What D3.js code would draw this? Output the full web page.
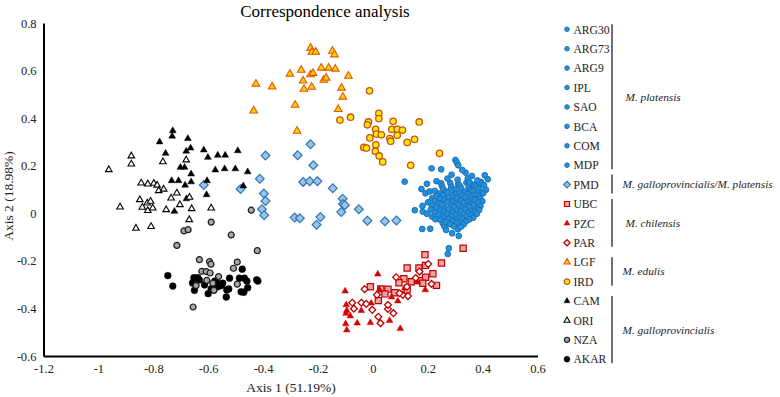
<!DOCTYPE html>
<html><head><meta charset="utf-8">
<script src="https://cdn.jsdelivr.net/npm/d3@7"></script>
<style>
html,body{margin:0;padding:0;background:#fff;}
svg{display:block;font-family:"Liberation Serif","Times New Roman",serif;}
</style></head>
<body>
<svg id="chart" width="780" height="397"></svg>
<script>
// ---------- DATA ----------
const title = "Correspondence analysis";
const xLabel = "Axis 1 (51.19%)";
const yLabel = "Axis 2 (18.98%)";
const xTicks = [-1.2,-1,-0.8,-0.6,-0.4,-0.2,0,0.2,0.4,0.6];
const yTicks = [-0.6,-0.4,-0.2,0,0.2,0.4,0.6,0.8];

// M. platensis populations (ARG30, ARG73, ARG9, IPL, SAO, BCA, COM, MDP) share one marker
const platensis = [
[0.301,0.224],[0.306,0.213],[0.311,0.202],[0.214,0.189],[0.249,0.185],[0.287,0.162],[0.338,0.171],[0.361,0.157],[0.408,0.160],[0.419,0.143],[0.394,0.132],[0.116,0.133],[0.197,0.124],[0.249,0.126],[0.177,0.102],[0.192,0.084],[0.207,0.092],[0.153,0.013],[0.181,0.031],[0.182,0.007],[0.197,-0.002],[0.180,-0.066],[0.209,-0.065],[0.216,-0.014],[0.228,-0.025],[0.255,-0.042],[0.261,-0.056],[0.267,-0.070],[0.289,-0.084],[0.310,-0.067],[0.313,-0.095],[0.277,-0.147],[0.273,-0.171],
[0.282,0.127],[0.311,0.122],[0.341,0.129],[0.368,0.120],[0.395,0.126],
[0.252,0.114],[0.286,0.111],[0.316,0.117],[0.349,0.109],[0.376,0.113],[0.405,0.118],
[0.256,0.103],[0.298,0.100],[0.322,0.106],[0.356,0.098],[0.386,0.104],[0.412,0.099],
[0.226,0.094],[0.266,0.092],[0.284,0.097],[0.336,0.090],[0.366,0.094],[0.396,0.088],
[0.241,0.083],[0.271,0.086],[0.302,0.081],[0.317,0.087],[0.347,0.082],[0.376,0.079],[0.402,0.084],
[0.231,0.073],[0.256,0.076],[0.291,0.071],[0.326,0.074],[0.354,0.070],[0.386,0.073],
[0.216,0.064],[0.246,0.061],[0.276,0.066],[0.306,0.062],[0.336,0.067],[0.361,0.060],[0.391,0.063],
[0.226,0.052],[0.261,0.056],[0.291,0.050],[0.321,0.054],[0.346,0.049],[0.371,0.055],[0.399,0.051],
[0.201,0.046],[0.241,0.042],[0.271,0.047],[0.301,0.041],[0.331,0.044],[0.356,0.040],[0.384,0.045],
[0.216,0.034],[0.251,0.037],[0.286,0.032],[0.311,0.036],[0.341,0.031],[0.366,0.035],[0.392,0.030],
[0.231,0.024],[0.264,0.021],[0.296,0.026],[0.326,0.022],[0.351,0.027],[0.381,0.020],
[0.211,0.016],[0.246,0.012],[0.276,0.017],[0.306,0.011],[0.336,0.015],[0.361,0.010],[0.387,0.014],
[0.226,0.004],[0.259,0.007],[0.291,0.002],[0.321,0.006],[0.346,0.001],[0.371,0.005],
[0.241,-0.006],[0.271,-0.003],[0.301,-0.008],[0.331,-0.004],[0.356,-0.009],[0.379,-0.002],
[0.256,-0.016],[0.286,-0.013],[0.316,-0.018],[0.341,-0.014],[0.366,-0.019],
[0.246,-0.027],[0.276,-0.024],[0.301,-0.028],[0.326,-0.023],[0.351,-0.026],
[0.266,-0.036],[0.291,-0.033],[0.316,-0.038],[0.339,-0.034],
[0.281,-0.046],[0.306,-0.043],[0.331,-0.047],
[0.296,-0.055],[0.321,-0.057],
[0.272,0.146],[0.309,0.141],[0.346,0.147],[0.381,0.138],
[0.326,0.182],[0.352,0.131],[0.232,0.135]
];
const PMD = [[-0.227,0.290],[-0.391,0.243],[-0.274,0.244],[-0.217,0.202],[-0.412,0.145],[-0.254,0.132],[-0.230,0.135],[-0.202,0.135],[-0.616,0.119],[-0.482,0.102],[-0.146,0.105],[-0.397,0.083],[-0.391,0.052],[-0.110,0.061],[-0.109,0.039],[-0.102,0.034],[-0.404,0.017],[-0.396,-0.008],[-0.115,0.005],[-0.051,0.017],[-0.285,-0.018],[-0.266,-0.021],[-0.191,-0.016],[-0.205,-0.048],[-0.020,-0.031],[0.044,-0.034],[0.086,-0.030]];
const UBC = [[0.329,-0.147],[0.190,-0.174],[0.250,-0.209],[0.125,-0.230],[0.168,-0.230],[0.192,-0.219],[0.219,-0.254],[0.232,-0.303],[0.192,-0.269],[0.113,-0.275],[0.140,-0.288],[-0.009,-0.309],[0.029,-0.318],[0.055,-0.319],[0.080,-0.334],[0.020,-0.367],[0.044,-0.339],[0.095,-0.292],[0.125,-0.322],[0.170,-0.283],[0.182,-0.294]];
const PZC = [[0.018,-0.256],[-0.101,-0.327],[-0.097,-0.385],[-0.095,-0.409],[-0.098,-0.421],[-0.082,-0.432],[-0.042,-0.409],[-0.057,-0.462],[-0.099,-0.465],[-0.095,-0.491],[-0.009,-0.460],[0.061,-0.451],[0.100,-0.485],[-0.006,-0.378],[0.024,-0.322],[0.091,-0.369],[0.191,-0.322],[0.068,-0.352],[0.116,-0.314],[0.163,-0.289]];
const PAR = [[-0.030,-0.319],[-0.075,-0.376],[-0.069,-0.401],[-0.042,-0.376],[-0.024,-0.381],[-0.002,-0.406],[0.015,-0.343],[0.020,-0.435],[0.028,-0.462],[0.055,-0.402],[0.075,-0.420],[0.085,-0.269],[0.109,-0.343],[0.128,-0.348],[0.156,-0.272],[0.170,-0.245],[0.202,-0.213],[0.214,-0.297],[0.124,-0.309],[0.097,-0.336],[0.055,-0.385]];
const LGF = [[-0.227,0.695],[-0.222,0.678],[-0.208,0.678],[-0.147,0.682],[-0.140,0.667],[-0.302,0.586],[-0.261,0.602],[-0.227,0.583],[-0.218,0.589],[-0.188,0.611],[-0.161,0.611],[-0.137,0.607],[-0.089,0.577],[-0.254,0.557],[-0.179,0.560],[-0.170,0.569],[-0.426,0.544],[-0.367,0.532],[-0.251,0.522],[-0.223,0.531],[-0.114,0.527],[-0.109,0.489],[-0.283,0.455],[-0.126,0.437],[-0.434,0.431],[-0.276,0.346]];
const IRD = [[-0.012,0.515],[-0.120,0.392],[-0.081,0.404],[0.022,0.420],[0.022,0.398],[-0.016,0.384],[-0.020,0.372],[0.074,0.387],[0.169,0.384],[0.010,0.353],[0.013,0.333],[0.031,0.330],[0.069,0.353],[0.089,0.353],[0.108,0.350],[0.089,0.328],[-0.011,0.317],[0.062,0.314],[0.065,0.303],[0.125,0.298],[0.152,0.311],[-0.033,0.277],[-0.023,0.274],[0.011,0.288],[0.009,0.261],[0.023,0.241],[0.036,0.216],[0.138,0.202],[0.243,0.252]];
const CAM = [[-0.729,0.347],[-0.731,0.324],[-0.777,0.300],[-0.674,0.314],[-0.755,0.252],[-0.680,0.261],[-0.664,0.274],[-0.616,0.266],[-0.601,0.235],[-0.565,0.244],[-0.538,0.244],[-0.492,0.263],[-0.701,0.193],[-0.686,0.193],[-0.662,0.165],[-0.574,0.182],[-0.540,0.187],[-0.501,0.187],[-0.456,0.174],[-0.733,0.137],[-0.708,0.137],[-0.684,0.118],[-0.662,0.132],[-0.604,0.137],[-0.472,0.115],[-0.606,0.078],[-0.679,0.061],[-0.723,0.008]];
const ORI = [[-0.962,0.183],[-0.880,0.241],[-0.880,0.207],[-0.765,0.216],[-0.680,0.224],[-0.844,0.127],[-0.820,0.123],[-0.798,0.126],[-0.786,0.118],[-0.780,0.095],[-0.762,0.101],[-0.714,0.085],[-0.735,0.064],[-0.668,0.067],[-0.921,0.026],[-0.849,0.057],[-0.822,0.043],[-0.810,0.050],[-0.840,0.025],[-0.820,0.011],[-0.802,0.022],[-0.753,0.015],[-0.703,0.036],[-0.660,0.019],[-0.589,0.022],[-0.669,-0.027],[-0.863,-0.063],[-0.808,-0.056]];
const NZA = [[-0.443,0.013],[-0.589,-0.037],[-0.688,-0.074],[-0.673,-0.069],[-0.516,-0.091],[-0.714,-0.135],[-0.421,-0.157],[-0.632,-0.195],[-0.595,-0.203],[-0.590,-0.214],[-0.494,-0.205],[-0.508,-0.231],[-0.623,-0.244],[-0.607,-0.245],[-0.593,-0.251],[-0.605,-0.282],[-0.562,-0.266],[-0.644,-0.304],[-0.583,-0.294],[-0.579,-0.324],[-0.494,-0.298],[-0.655,-0.394]];
const AKAR = [[-0.747,-0.262],[-0.729,-0.306],[-0.652,-0.271],[-0.638,-0.271],[-0.632,-0.280],[-0.650,-0.324],[-0.613,-0.301],[-0.600,-0.338],[-0.571,-0.288],[-0.559,-0.298],[-0.547,-0.294],[-0.565,-0.309],[-0.552,-0.304],[-0.522,-0.273],[-0.532,-0.322],[-0.525,-0.318],[-0.534,-0.352],[-0.476,-0.235],[-0.486,-0.273],[-0.468,-0.273],[-0.459,-0.285],[-0.480,-0.330],[-0.470,-0.332],[-0.456,-0.313],[-0.419,-0.285],[-0.423,-0.280],[-0.576,-0.285],[-0.589,-0.318],[-0.657,-0.293]];

const legendLabels = ["ARG30","ARG73","ARG9","IPL","SAO","BCA","COM","MDP","PMD","UBC","PZC","PAR","LGF","IRD","CAM","ORI","NZA","AKAR"];
const speciesNames = ["M. platensis","M. galloprovincialis/M. platensis","M. chilensis","M. edulis","M. galloprovincialis"];
const speciesFirst = ["ARG30","PMD","UBC","LGF","CAM"];
const speciesLast  = ["MDP","PMD","PAR","IRD","AKAR"];

// ---------- STYLES ----------
const S3 = Math.sqrt(3);
const tri = s => { const h = s*S3/2; return `M0,${-2*h/3}L${s/2},${h/3}L${-s/2},${h/3}Z`; };
const dia = r => `M0,${-r}L${r},0L0,${r}L${-r},0Z`;
const sq = s => `M${-s/2},${-s/2}H${s/2}V${s/2}H${-s/2}Z`;
const circ = r => `M${r},0A${r},${r} 0 1,1 ${-r},0A${r},${r} 0 1,1 ${r},0Z`;

const styles = {
  platensis:{d:circ(2.9), ld:circ(2.3), fill:"#2290dc", stroke:"#1a6db0", sw:0.9},
  PMD:{d:dia(4.4), ld:dia(3.3), fill:"#9dc3e6", stroke:"#2e75b6", sw:1.2},
  UBC:{d:sq(6.2), ld:sq(5), fill:"#f4a3a3", stroke:"#c00000", sw:1.2},
  PZC:{d:tri(6.6), ld:tri(5.8), fill:"#d90000", stroke:"#d90000", sw:0.5},
  PAR:{d:dia(3.4), ld:dia(3.1), fill:"#ffffff", stroke:"#c00000", sw:1.3},
  LGF:{d:tri(7.6), ld:tri(6.2), fill:"#ffd000", stroke:"#e0580a", sw:1.1},
  IRD:{d:circ(3.2), ld:circ(2.8), fill:"#ffea00", stroke:"#c8501a", sw:1.3},
  CAM:{d:tri(6.8), ld:tri(6), fill:"#000000", stroke:"#000000", sw:0.5},
  ORI:{d:tri(6.6), ld:tri(6), fill:"#ffffff", stroke:"#000000", sw:1.1},
  NZA:{d:circ(3), ld:circ(2.6), fill:"#a6a6a6", stroke:"#1a1a1a", sw:1.2},
  AKAR:{d:circ(3.4), ld:circ(2.9), fill:"#000000", stroke:"#000000", sw:0.5}
};
const seriesData = {platensis, PMD, UBC, PZC, PAR, LGF, IRD, CAM, ORI, AKAR, NZA};
const drawOrder = ["platensis","PMD","UBC","PZC","PAR","LGF","IRD","CAM","ORI","AKAR","NZA"];
const legendKey = l => (["ARG30","ARG73","ARG9","IPL","SAO","BCA","COM","MDP"].includes(l) ? "platensis" : l);

// ---------- CHART ----------
const svg = d3.select("#chart");
const x = d3.scaleLinear().domain([-1.2,0.6]).range([43.5,537.5]);
const y = d3.scaleLinear().domain([-0.6,0.8]).range([356,23]);
const fmt = d => (d === 0 ? "0" : String(d));

const gx = svg.append("g").attr("transform","translate(0,356)")
  .call(d3.axisBottom(x).tickValues(xTicks).tickFormat(fmt).tickSize(0).tickPadding(8));
const gy = svg.append("g").attr("transform","translate(43.5,0)")
  .call(d3.axisLeft(y).tickValues(yTicks).tickFormat(fmt).tickSize(0).tickPadding(7));
[gx,gy].forEach(g=>{
  g.select(".domain").attr("stroke","#000").attr("stroke-width",2);
  g.selectAll("text").attr("font-family","'Liberation Serif',serif").attr("font-size",12.5).attr("fill","#222");
});

svg.append("text").attr("x",325).attr("y",17).attr("text-anchor","middle")
  .attr("font-size",17).attr("fill","#000").text(title);
svg.append("text").attr("x",291).attr("y",392).attr("text-anchor","middle")
  .attr("font-size",13.5).attr("fill","#222").text(xLabel);
svg.append("text").attr("transform","translate(13,196) rotate(-90)").attr("text-anchor","middle")
  .attr("font-size",13.5).attr("fill","#222").text(yLabel);

const plot = svg.append("g");
drawOrder.forEach(k=>{
  const st = styles[k];
  plot.append("g").selectAll("path").data(seriesData[k]).join("path")
    .attr("transform", d=>`translate(${x(d[0])},${y(d[1])})`)
    .attr("d", st.d).attr("fill", st.fill).attr("stroke", st.stroke).attr("stroke-width", st.sw);
});

// ---------- LEGEND ----------
const rowY = i => 29.3 + i*19.41;
const leg = svg.append("g");
legendLabels.forEach((l,i)=>{
  const st = styles[legendKey(l)];
  leg.append("path").attr("transform",`translate(567,${rowY(i)})`).attr("d",st.ld)
    .attr("fill",st.fill).attr("stroke",st.stroke).attr("stroke-width",st.sw);
  leg.append("text").attr("x",573.5).attr("y",rowY(i)+4.2).attr("font-size",11.6).attr("fill","#222").text(l);
});
speciesNames.forEach((n,j)=>{
  const a = legendLabels.indexOf(speciesFirst[j]), b = legendLabels.indexOf(speciesLast[j]);
  const single = a === b;
  const top = rowY(a) - (single ? 10 : 5), bot = rowY(b) + (single ? 9 : 4);
  leg.append("line").attr("x1",612).attr("x2",612).attr("y1",top).attr("y2",bot)
    .attr("stroke","#404040").attr("stroke-width",1.5);
  leg.append("text").attr("x", (j===0||j===2) ? 625.5 : 622.5).attr("y",(top+bot)/2+4)
    .attr("font-size",11.3).attr("font-style","italic").attr("fill","#222").text(n);
});
</script>
</body></html>
